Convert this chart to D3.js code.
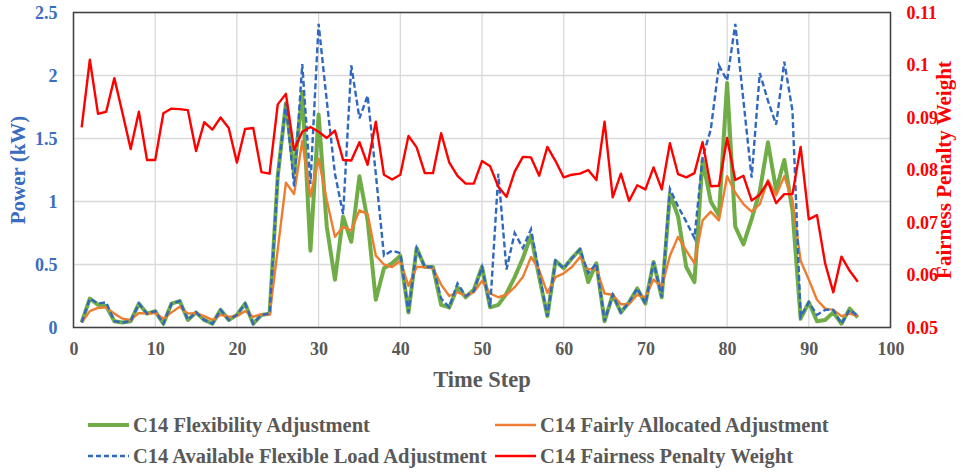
<!DOCTYPE html>
<html>
<head>
<meta charset="utf-8">
<script src="https://cdn.jsdelivr.net/npm/d3@7"></script>
<style>
  html, body { margin: 0; padding: 0; background: #fff; }
  svg { display: block; }
  text { font-family: "Liberation Serif", "Times New Roman", serif; font-weight: bold; }
</style>
</head>
<body>
<svg id="chart" width="972" height="472"></svg>
<script>
const timeSteps = d3.range(1, 97);

const flexibilityAdj = [
  0.04, 0.23, 0.18, 0.17, 0.05, 0.04, 0.05, 0.19, 0.11, 0.13,
  0.03, 0.19, 0.21, 0.06, 0.12, 0.06, 0.03, 0.14, 0.06, 0.10,
  0.19, 0.03, 0.10, 0.11, 1.20, 1.78, 1.22, 1.87, 0.61, 1.69,
  0.80, 0.38, 0.88, 0.68, 1.20, 0.85, 0.22, 0.47, 0.51, 0.57,
  0.12, 0.63, 0.48, 0.48, 0.18, 0.16, 0.32, 0.24, 0.30, 0.48,
  0.16, 0.18, 0.27, 0.40, 0.55, 0.73, 0.40, 0.09, 0.53, 0.47,
  0.55, 0.62, 0.36, 0.51, 0.05, 0.26, 0.12, 0.20, 0.31, 0.19,
  0.52, 0.24, 1.06, 0.88, 0.48, 0.36, 1.33, 1.00, 0.89, 1.94,
  0.80, 0.66, 0.86, 1.08, 1.47, 1.09, 1.33, 0.93, 0.07, 0.20,
  0.05, 0.06, 0.12, 0.03, 0.15, 0.08
];

const fairlyAllocatedAdj = [
  0.04, 0.13, 0.155, 0.16, 0.11, 0.07, 0.06, 0.115, 0.11, 0.115,
  0.07, 0.12, 0.165, 0.11, 0.115, 0.09, 0.06, 0.10, 0.085, 0.09,
  0.13, 0.085, 0.105, 0.10, 0.62, 1.15, 1.06, 1.48, 1.04, 1.34,
  1.01, 0.72, 0.80, 0.77, 0.93, 0.90, 0.57, 0.50, 0.48, 0.53,
  0.33, 0.48, 0.48, 0.47, 0.34, 0.25, 0.28, 0.25, 0.28, 0.37,
  0.27, 0.24, 0.26, 0.32, 0.40, 0.56, 0.455, 0.275, 0.40, 0.43,
  0.48, 0.56, 0.46, 0.47, 0.27, 0.26, 0.185, 0.185, 0.26, 0.24,
  0.38, 0.32, 0.57, 0.72, 0.61, 0.51, 0.85, 0.92, 0.85, 1.20,
  1.07, 0.98, 0.92, 0.98, 1.17, 1.05, 1.20, 1.01, 0.53, 0.38,
  0.22, 0.15, 0.14, 0.09, 0.11, 0.09
];

const availableFlexAdj = [
  0.04, 0.23, 0.19, 0.20, 0.05, 0.04, 0.05, 0.19, 0.11, 0.13,
  0.03, 0.19, 0.21, 0.06, 0.12, 0.06, 0.03, 0.14, 0.06, 0.10,
  0.19, 0.03, 0.10, 0.11, 1.20, 1.78, 1.12, 2.09, 1.14, 2.41,
  1.80, 1.22, 0.90, 2.08, 1.66, 1.84, 1.22, 0.57, 0.61, 0.59,
  0.12, 0.63, 0.48, 0.48, 0.23, 0.16, 0.35, 0.25, 0.29, 0.48,
  0.16, 1.22, 0.46, 0.75, 0.63, 0.78, 0.43, 0.09, 0.53, 0.47,
  0.55, 0.62, 0.43, 0.51, 0.05, 0.26, 0.12, 0.20, 0.31, 0.19,
  0.52, 0.24, 1.10, 0.96, 0.84, 0.71, 1.35, 1.57, 2.08, 1.96,
  2.41, 1.80, 1.19, 2.02, 1.80, 1.61, 2.11, 1.72, 0.085, 0.20,
  0.10, 0.14, 0.14, 0.03, 0.14, 0.09
];

const penaltyWeight = [
  0.0881, 0.1010, 0.0907, 0.0911, 0.0975, 0.0908, 0.0840, 0.0911, 0.0819, 0.0819,
  0.0908, 0.0917, 0.0916, 0.0914, 0.0836, 0.0891, 0.0877, 0.0900, 0.0880, 0.0814,
  0.0878, 0.0880, 0.0796, 0.0793, 0.0925, 0.0945, 0.0838, 0.0873, 0.0882, 0.0873,
  0.0861, 0.0875, 0.0819, 0.0818, 0.0853, 0.0810, 0.0892, 0.0791, 0.0782, 0.0791,
  0.0865, 0.0843, 0.0794, 0.0794, 0.0870, 0.0814, 0.0789, 0.0774, 0.0774, 0.0817,
  0.0807, 0.0768, 0.0749, 0.0797, 0.0825, 0.0824, 0.0789, 0.0844, 0.0817, 0.0786,
  0.0791, 0.0793, 0.0800, 0.0781, 0.0892, 0.0748, 0.0793, 0.0741, 0.0771, 0.0763,
  0.0805, 0.0763, 0.0851, 0.0792, 0.0786, 0.0794, 0.0853, 0.0769, 0.0770, 0.0861,
  0.0781, 0.0789, 0.0742, 0.0753, 0.0778, 0.0737, 0.0754, 0.0754, 0.0844, 0.0706,
  0.0714, 0.0622, 0.0567, 0.0635, 0.0608, 0.0587
];

const xTicks = [0, 10, 20, 30, 40, 50, 60, 70, 80, 90, 100];
const leftTicks = [0, 0.5, 1, 1.5, 2, 2.5];
const rightTicks = [0.05, 0.06, 0.07, 0.08, 0.09, 0.1, 0.11];

const seriesNames = [
  "C14 Flexibility Adjustment",
  "C14 Fairly Allocated Adjustment",
  "C14 Available Flexible Load Adjustment",
  "C14 Fairness Penalty Weight"
];

const svg = d3.select("#chart");
const m = { left: 73.5, right: 890.5, top: 12.5, bottom: 327.5 };

const x = d3.scaleLinear().domain([0, 100]).range([m.left, m.right]);
const yL = d3.scaleLinear().domain([0, 2.5]).range([m.bottom, m.top]);
const yR = d3.scaleLinear().domain([0.05, 0.11]).range([m.bottom, m.top]);

const gridColor = "#d9d9d9";
const blueText = "#3a6cc0";
const redText = "#ff0000";
const grayText = "#595959";

// gridlines
svg.append("g").selectAll("line").data(leftTicks).join("line")
  .attr("x1", m.left).attr("x2", m.right)
  .attr("y1", d => yL(d)).attr("y2", d => yL(d))
  .attr("stroke", gridColor).attr("stroke-width", 1.3);
svg.append("g").selectAll("line").data(xTicks).join("line")
  .attr("x1", d => x(d)).attr("x2", d => x(d))
  .attr("y1", m.top).attr("y2", m.bottom)
  .attr("stroke", gridColor).attr("stroke-width", 1.3);

// axes (labels only)
const xAxis = svg.append("g").attr("transform", `translate(0,${m.bottom})`)
  .call(d3.axisBottom(x).tickValues(xTicks).tickSize(0).tickPadding(15).tickFormat(d3.format("d")));
xAxis.select(".domain").remove();
xAxis.selectAll("text").attr("fill", grayText).style("font-size", "18px");

const lAxis = svg.append("g").attr("transform", `translate(${m.left},0)`)
  .call(d3.axisLeft(yL).tickValues(leftTicks).tickSize(0).tickPadding(16).tickFormat(d => String(d)));
lAxis.select(".domain").remove();
lAxis.selectAll("text").attr("fill", blueText).style("font-size", "18px");

const rAxis = svg.append("g").attr("transform", `translate(${m.right},0)`)
  .call(d3.axisRight(yR).tickValues(rightTicks).tickSize(0).tickPadding(16).tickFormat(d => String(+d.toFixed(2))));
rAxis.select(".domain").remove();
rAxis.selectAll("text").attr("fill", redText).style("font-size", "18px");

// lines
const lineL = d3.line().x((d, i) => x(timeSteps[i])).y(d => yL(d));
const lineR = d3.line().x((d, i) => x(timeSteps[i])).y(d => yR(d));

svg.append("path").datum(flexibilityAdj).attr("d", lineL)
  .attr("fill", "none").attr("stroke", "#70ad47").attr("stroke-width", 4).attr("stroke-linejoin", "round");
svg.append("path").datum(fairlyAllocatedAdj).attr("d", lineL)
  .attr("fill", "none").attr("stroke", "#ed7d31").attr("stroke-width", 2.4).attr("stroke-linejoin", "round");
svg.append("path").datum(availableFlexAdj).attr("d", lineL)
  .attr("fill", "none").attr("stroke", "#3068c0").attr("stroke-width", 2.4).attr("stroke-dasharray", "6,3");
svg.append("path").datum(penaltyWeight).attr("d", lineR)
  .attr("fill", "none").attr("stroke", "#ff0000").attr("stroke-width", 2.4).attr("stroke-linejoin", "round");

// frame
svg.append("rect").attr("x", m.left).attr("y", m.top)
  .attr("width", m.right - m.left).attr("height", m.bottom - m.top)
  .attr("fill", "none").attr("stroke", "#404040").attr("stroke-width", 1.5);

// axis titles
svg.append("text").attr("x", (m.left + m.right) / 2).attr("y", 387)
  .attr("text-anchor", "middle").attr("fill", grayText).style("font-size", "22.5px").text("Time Step");
svg.append("text").attr("transform", "translate(25,170) rotate(-90)")
  .attr("text-anchor", "middle").attr("fill", blueText).style("font-size", "21px").text("Power (kW)");
svg.append("text").attr("transform", "translate(951,170) rotate(-90)")
  .attr("text-anchor", "middle").attr("fill", redText).style("font-size", "21px").text("Fairness Penalty Weight");

// legend
const legendItems = [
  { name: seriesNames[0], color: "#70ad47", w: 4, dash: null, lx: 88, ly: 425 },
  { name: seriesNames[1], color: "#ed7d31", w: 2.4, dash: null, lx: 495, ly: 425 },
  { name: seriesNames[2], color: "#3068c0", w: 2.4, dash: "5,3", lx: 88, ly: 456 },
  { name: seriesNames[3], color: "#ff0000", w: 2.4, dash: null, lx: 495, ly: 456 }
];
const lg = svg.append("g").selectAll("g").data(legendItems).join("g");
lg.append("line")
  .attr("x1", d => d.lx).attr("x2", d => d.lx + 41)
  .attr("y1", d => d.ly).attr("y2", d => d.ly)
  .attr("stroke", d => d.color).attr("stroke-width", d => d.w)
  .attr("stroke-dasharray", d => d.dash);
lg.append("text")
  .attr("x", d => d.lx + 45).attr("y", d => d.ly).attr("dy", "0.35em")
  .attr("fill", grayText).style("font-size", "20.5px").text(d => d.name);
</script>
</body>
</html>
